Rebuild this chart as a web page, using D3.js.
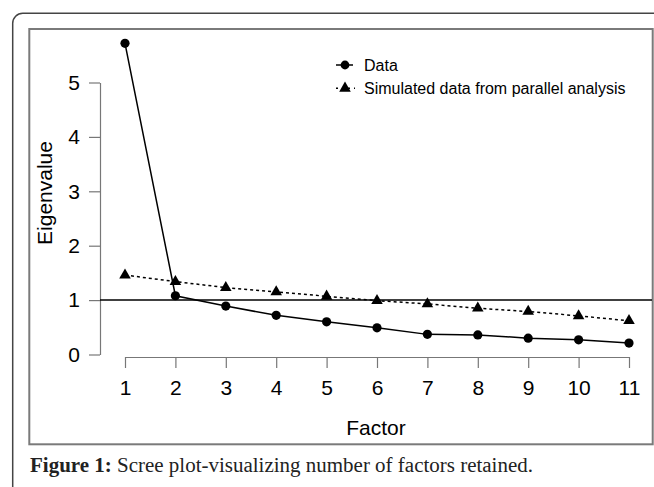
<!DOCTYPE html>
<html>
<head>
<meta charset="utf-8">
<script src="https://cdn.jsdelivr.net/npm/d3@7"></script>
<style>
  body { margin: 0; background: #fff; }
  svg { display: block; }
</style>
</head>
<body>
<svg id="chart" width="654" height="487"></svg>
<script>
// values
const factors = [1, 2, 3, 4, 5, 6, 7, 8, 9, 10, 11];
const observed = [5.72, 1.08, 0.89, 0.72, 0.60, 0.49, 0.37, 0.36, 0.30, 0.27, 0.21];
const simulated = [1.46, 1.34, 1.23, 1.15, 1.07, 0.99, 0.93, 0.85, 0.79, 0.71, 0.62];
const yTicks = [0, 1, 2, 3, 4, 5];
const legendLabels = ["Data", "Simulated data from parallel analysis"];

const sans = "Liberation Sans, Arial, sans-serif";
const svg = d3.select("#chart").attr("font-family", sans);

// outer page frame (rounded corner at top-left)
const r = 10;
svg.append("path")
  .attr("d", `M12.7,487V${13.3 + r}A${r},${r} 0 0 1 ${12.7 + r},13.3H654`)
  .attr("fill", "none").attr("stroke", "#444").attr("stroke-width", 1.5);

// figure box
svg.append("rect")
  .attr("x", 29.3).attr("y", 29).attr("width", 623.4).attr("height", 415.3)
  .attr("fill", "none").attr("stroke", "#7a7a7a").attr("stroke-width", 2);

const x = d3.scaleLinear().domain([1, 11]).range([125, 629]);
const y = d3.scaleLinear().domain([0, 5]).range([354.5, 82.5]);

// y axis
const gy = svg.append("g").attr("transform", "translate(100,0)")
  .call(d3.axisLeft(y).tickValues(yTicks).tickFormat(d3.format("d"))
    .tickSize(11).tickSizeOuter(0).tickPadding(9));
// x axis
const gx = svg.append("g").attr("transform", "translate(0,357)")
  .call(d3.axisBottom(x).tickValues(factors).tickFormat(d3.format("d"))
    .tickSize(11).tickSizeOuter(0).tickPadding(12));

[gx, gy].forEach(g => {
  g.attr("font-family", sans).attr("font-size", 21);
  g.select(".domain").attr("stroke", "#777").attr("stroke-width", 1.2);
  g.selectAll(".tick line").attr("stroke", "#777").attr("stroke-width", 1.2);
  g.selectAll(".tick text").attr("fill", "#000");
});

// axis titles
svg.append("text")
  .attr("transform", "translate(52,193) rotate(-90)")
  .attr("text-anchor", "middle").attr("font-size", 21).text("Eigenvalue");
svg.append("text")
  .attr("x", 376).attr("y", 435)
  .attr("text-anchor", "middle").attr("font-size", 21).text("Factor");

// reference line at eigenvalue 1
svg.append("line")
  .attr("x1", 100).attr("x2", 652).attr("y1", y(1)).attr("y2", y(1))
  .attr("stroke", "#000").attr("stroke-width", 1.5);

const line = d3.line().x((d, i) => x(factors[i])).y(d => y(d));

// simulated data (dashed, triangles)
svg.append("path").datum(simulated)
  .attr("d", line).attr("fill", "none")
  .attr("stroke", "#000").attr("stroke-width", 1.5).attr("stroke-dasharray", "3,3");
const tri = d3.symbol().type(d3.symbolTriangle).size(58);
svg.selectAll(".tri").data(simulated).enter().append("path")
  .attr("class", "tri")
  .attr("d", tri)
  .attr("transform", (d, i) => `translate(${x(factors[i])},${y(d)})`)
  .attr("fill", "#000");

// observed data (solid, circles)
svg.append("path").datum(observed)
  .attr("d", line).attr("fill", "none")
  .attr("stroke", "#000").attr("stroke-width", 1.5);
svg.selectAll(".dot").data(observed).enter().append("circle")
  .attr("class", "dot")
  .attr("cx", (d, i) => x(factors[i])).attr("cy", d => y(d))
  .attr("r", 4.6).attr("fill", "#000");

// legend
const lg = svg.append("g");
lg.append("line").attr("x1", 336).attr("x2", 353).attr("y1", 65).attr("y2", 65)
  .attr("stroke", "#000").attr("stroke-width", 1.5);
lg.append("circle").attr("cx", 345).attr("cy", 65).attr("r", 4.4).attr("fill", "#000");
lg.append("line").attr("x1", 336).attr("x2", 355).attr("y1", 88.3).attr("y2", 88.3)
  .attr("stroke", "#000").attr("stroke-width", 1.5).attr("stroke-dasharray", "2,4");
lg.append("path").attr("d", tri).attr("transform", "translate(345,88.3)").attr("fill", "#000");
lg.selectAll(".lbl").data(legendLabels).enter().append("text")
  .attr("class", "lbl")
  .attr("x", 364).attr("y", (d, i) => 65 + i * 23.3)
  .attr("dy", "0.35em").attr("font-size", 16).text(d => d);

// caption
const cap = svg.append("text")
  .attr("x", 30).attr("y", 471.5)
  .attr("font-family", "Liberation Serif, 'Times New Roman', serif")
  .attr("font-size", 20).attr("fill", "#222")
  .attr("textLength", 503).attr("lengthAdjust", "spacingAndGlyphs");
cap.append("tspan").attr("font-weight", "bold").text("Figure 1:");
cap.append("tspan").text(" Scree plot-visualizing number of factors retained.");
</script>
</body>
</html>
